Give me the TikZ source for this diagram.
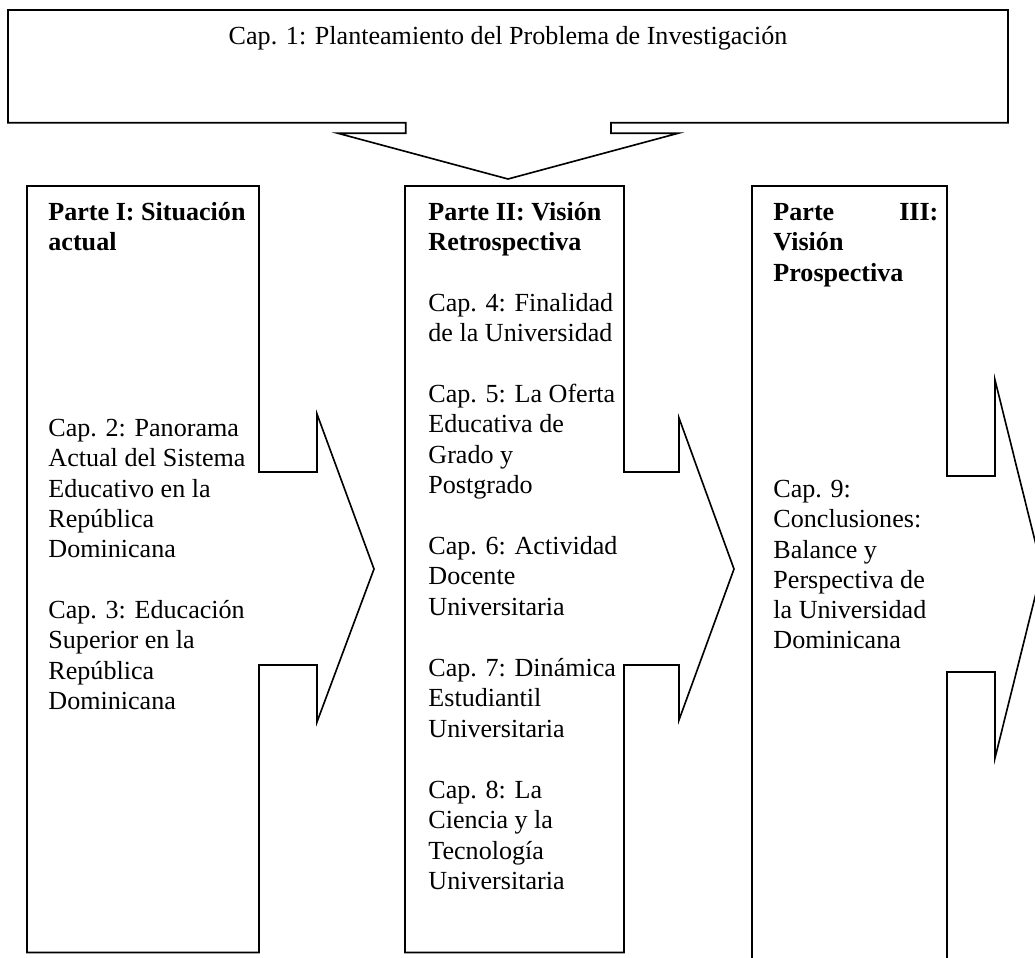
\documentclass[tikz,border=0pt]{standalone}
\usepackage{fontspec}
\setmainfont{Liberation Serif}
\usepackage{tikz}

\newcommand{\capfont}{\fontsize{12}{13.9}\selectfont}
\tikzset{
  callout/.style={draw=black, line width=0.75pt, line join=miter},
  captext/.style={anchor=north west, inner sep=0pt, align=left, font=\capfont},
}

\begin{document}
\begin{tikzpicture}[x=0.46pt, y=-0.46pt]
    \useasboundingbox (0,0) rectangle (1035,958);
    \clip (0,0) rectangle (1035,958);

    % Cap. 1: box with arrow down
    \draw[callout] (8,10) -- (1008,10) -- (1008,122.7) -- (611,122.7) -- (611,133.3)
        -- (678,133.3) -- (508,179) -- (338,133.3) -- (405.7,133.3) -- (405.7,122.7)
        -- (8,122.7) -- cycle;
    \node[font=\capfont, anchor=base, inner sep=0pt] (cap1) at (508,44)
        {Cap. 1: Planteamiento del Problema de Investigación};

    % Parte I: box with arrow right
    \draw[callout] (27,186) -- (259,186) -- (259,472) -- (317,472) -- (317,414)
        -- (374,569) -- (317,722) -- (317,665) -- (259,665) -- (259,952.5)
        -- (27,952.5) -- cycle;
    \node[captext] (parte1) at (48,199) {\strut\textbf{Parte I: Situación}\\\textbf{actual}};
    \node[captext] (cap2) at (48,415) {\strut Cap. 2: Panorama\\Actual del Sistema\\Educativo en la\\República\\Dominicana};
    \node[captext] (cap3) at (48,597) {\strut Cap. 3: Educación\\Superior en la\\República\\Dominicana};

    % Parte II: box with arrow right
    \draw[callout] (405,186) -- (624,186) -- (624,472) -- (679,472) -- (679,418)
        -- (734,569) -- (679,720) -- (679,665) -- (624,665) -- (624,952.5)
        -- (405,952.5) -- cycle;
    \node[captext] (parte2) at (428,199) {\strut\textbf{Parte II: Visión}\\\textbf{Retrospectiva}};
    \node[captext] (cap4) at (428,290) {\strut Cap. 4: Finalidad\\de la Universidad};
    \node[captext] (cap5) at (428,381) {\strut Cap. 5: La Oferta\\Educativa de\\Grado y\\Postgrado};
    \node[captext] (cap6) at (428,533) {\strut Cap. 6: Actividad\\Docente\\Universitaria};
    \node[captext] (cap7) at (428,655) {\strut Cap. 7: Dinámica\\Estudiantil\\Universitaria};
    \node[captext] (cap8) at (428,777) {\strut Cap. 8: La\\Ciencia y la\\Tecnología\\Universitaria};

    % Parte III: box with arrow right (runs off the page)
    \draw[callout] (752,186) -- (947,186) -- (947,476) -- (995,476) -- (995,380)
        -- (1042,569) -- (995,758) -- (995,672) -- (947,672) -- (947,970)
        -- (752,970) -- cycle;
    \node[captext] (parte3) at (773,199)
        {\strut\textbf{\makebox[75.9pt]{Parte\hfill III:}}\\\textbf{Visión}\\\textbf{Prospectiva}};
    \node[captext] (cap9) at (773,476) {\strut Cap. 9:\\Conclusiones:\\Balance y\\Perspectiva de\\la Universidad\\Dominicana};
\end{tikzpicture}
\end{document}
